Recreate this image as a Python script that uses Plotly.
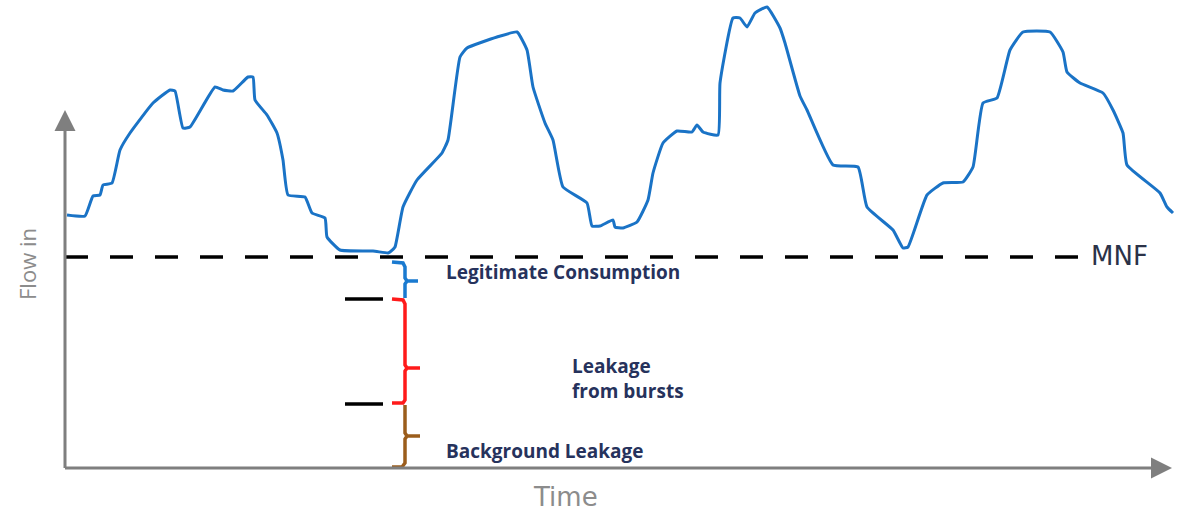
import plotly.graph_objects as go

# ---- data (x = time, y = flow in screen-like units, axis reversed) ----
flow_time = [67, 85, 93, 100, 103, 112, 120, 130, 153, 170, 175, 183, 190, 215, 223, 233, 248, 253,
             255, 267, 277, 283, 288, 305, 312, 325, 327, 340, 373, 388, 390, 395, 403, 417, 442, 448,
             460, 467, 497, 517, 527, 533, 545, 553, 563, 587, 592, 600, 613, 615, 623, 637, 648, 653,
             663, 677, 692, 697, 703, 718, 720, 733, 740, 747, 755, 767, 780, 785, 800, 807, 833, 858,
             867, 893, 903, 908, 927, 943, 963, 973, 983, 997, 1010, 1023, 1050, 1063, 1067, 1080,
             1103, 1113, 1123, 1127, 1160, 1167, 1173]
flow_value = [215, 216, 196, 195, 185, 183, 150, 133, 103, 90, 91, 128, 127, 87, 90, 91, 77, 77,
              100, 115, 133, 160, 195, 197, 213, 218, 237, 250, 251, 253, 252, 247, 207, 180, 153, 140,
              57, 48, 37, 32, 50, 87, 123, 140, 187, 203, 226, 226, 220, 227, 228, 222, 200, 173,
              143, 131, 132, 125, 132, 135, 83, 18, 18, 27, 13, 7, 28, 43, 96, 110, 165, 167,
              207, 230, 248, 247, 195, 183, 182, 167, 103, 98, 50, 32, 32, 52, 72, 83,
              93, 110, 133, 165, 193, 207, 213]

mnf_level = 257
axis_origin = (65, 468)
axis_y_top = 110
axis_x_end = 1172
mnf_x = [65, 1078]

# brackets (time position, from / to levels)
blue_bracket = dict(x=[392, 403, 405, 405, 407, 418, 407, 405, 405],
                    y=[262, 263, 267, 278, 281, 281, 281, 284, 298])
red_bracket = dict(x=[392, 403, 405, 405, 407, 420, 407, 405, 405, 403, 392],
                   y=[299, 300, 304, 365, 368, 368, 368, 371, 400, 403, 403])
brown_bracket = dict(x=[405, 405, 407, 420, 407, 405, 405, 402, 392],
                     y=[405, 433, 436, 436, 436, 439, 463, 467, 467])
burst_marks_x = [345, 383]
burst_marks_y = [299, 404]

fig = go.Figure()

# MNF dashed line
fig.add_trace(go.Scatter(x=mnf_x, y=[mnf_level, mnf_level], mode="lines",
                         line=dict(color="black", width=3.5, dash="23px,22px"),
                         hoverinfo="skip"))

# flow curve
fig.add_trace(go.Scatter(x=flow_time, y=flow_value, mode="lines",
                         line=dict(color="#1a73c6", width=3, shape="spline", smoothing=0.4),
                         hoverinfo="skip"))

# brackets
for br, col in [(blue_bracket, "#1a7ad0"), (red_bracket, "#ff1a1a"), (brown_bracket, "#9b5d1c")]:
    fig.add_trace(go.Scatter(x=br["x"], y=br["y"], mode="lines",
                             line=dict(color=col, width=3.5), hoverinfo="skip"))

# short black marks
for yy in burst_marks_y:
    fig.add_trace(go.Scatter(x=burst_marks_x, y=[yy, yy], mode="lines",
                             line=dict(color="black", width=3.5), hoverinfo="skip"))

# axes with arrows
ox, oy = axis_origin
fig.add_annotation(x=ox, y=axis_y_top, ax=ox, ay=oy + 1.5, xref="x", yref="y", axref="x", ayref="y",
                   text="", showarrow=True, arrowhead=2, arrowsize=1.4, arrowwidth=3,
                   arrowcolor="#7f7f7f")
fig.add_annotation(x=axis_x_end, y=oy, ax=ox - 1.5, ay=oy, xref="x", yref="y", axref="x", ayref="y",
                   text="", showarrow=True, arrowhead=2, arrowsize=1.4, arrowwidth=3,
                   arrowcolor="#7f7f7f")

font_main = "Open Sans"
txt_col = "#26325c"
fig.add_annotation(x=444, y=272, text="<b>Legitimate Consumption</b>", showarrow=False, xanchor="left",
                   yanchor="middle", font=dict(family=font_main, size=19, color=txt_col))
fig.add_annotation(x=570, y=378, text="<b>Leakage<br>from bursts</b>", showarrow=False,
                   xanchor="left", yanchor="middle", align="left",
                   font=dict(family=font_main, size=19, color=txt_col))
fig.add_annotation(x=444, y=451, text="<b>Background Leakage</b>", showarrow=False, xanchor="left",
                   yanchor="middle", font=dict(family=font_main, size=19, color=txt_col))
fig.add_annotation(x=1089, y=256, text="MNF", showarrow=False, xanchor="left", yanchor="middle",
                   font=dict(family="DejaVu Sans", size=26, color="#2b3248"))
fig.add_annotation(x=27, y=264, text="Flow in", showarrow=False, textangle=-90,
                   xanchor="center", yanchor="middle",
                   font=dict(family=font_main, size=22, color="#8c8c8c"))
fig.add_annotation(x=565, y=497, text="Time", showarrow=False, xanchor="center", yanchor="middle",
                   font=dict(family="DejaVu Sans", size=26, color="#8c8c8c"))

fig.update_layout(
    width=1180, height=515,
    margin=dict(l=0, r=0, t=0, b=0),
    paper_bgcolor="white", plot_bgcolor="white",
    showlegend=False,
    xaxis=dict(range=[0, 1180], visible=False, fixedrange=True),
    yaxis=dict(range=[515, 0], visible=False, fixedrange=True),
)

fig.write_html("out.html", config={"displayModeBar": False},
               post_script="document.body.style.margin='0px';")
